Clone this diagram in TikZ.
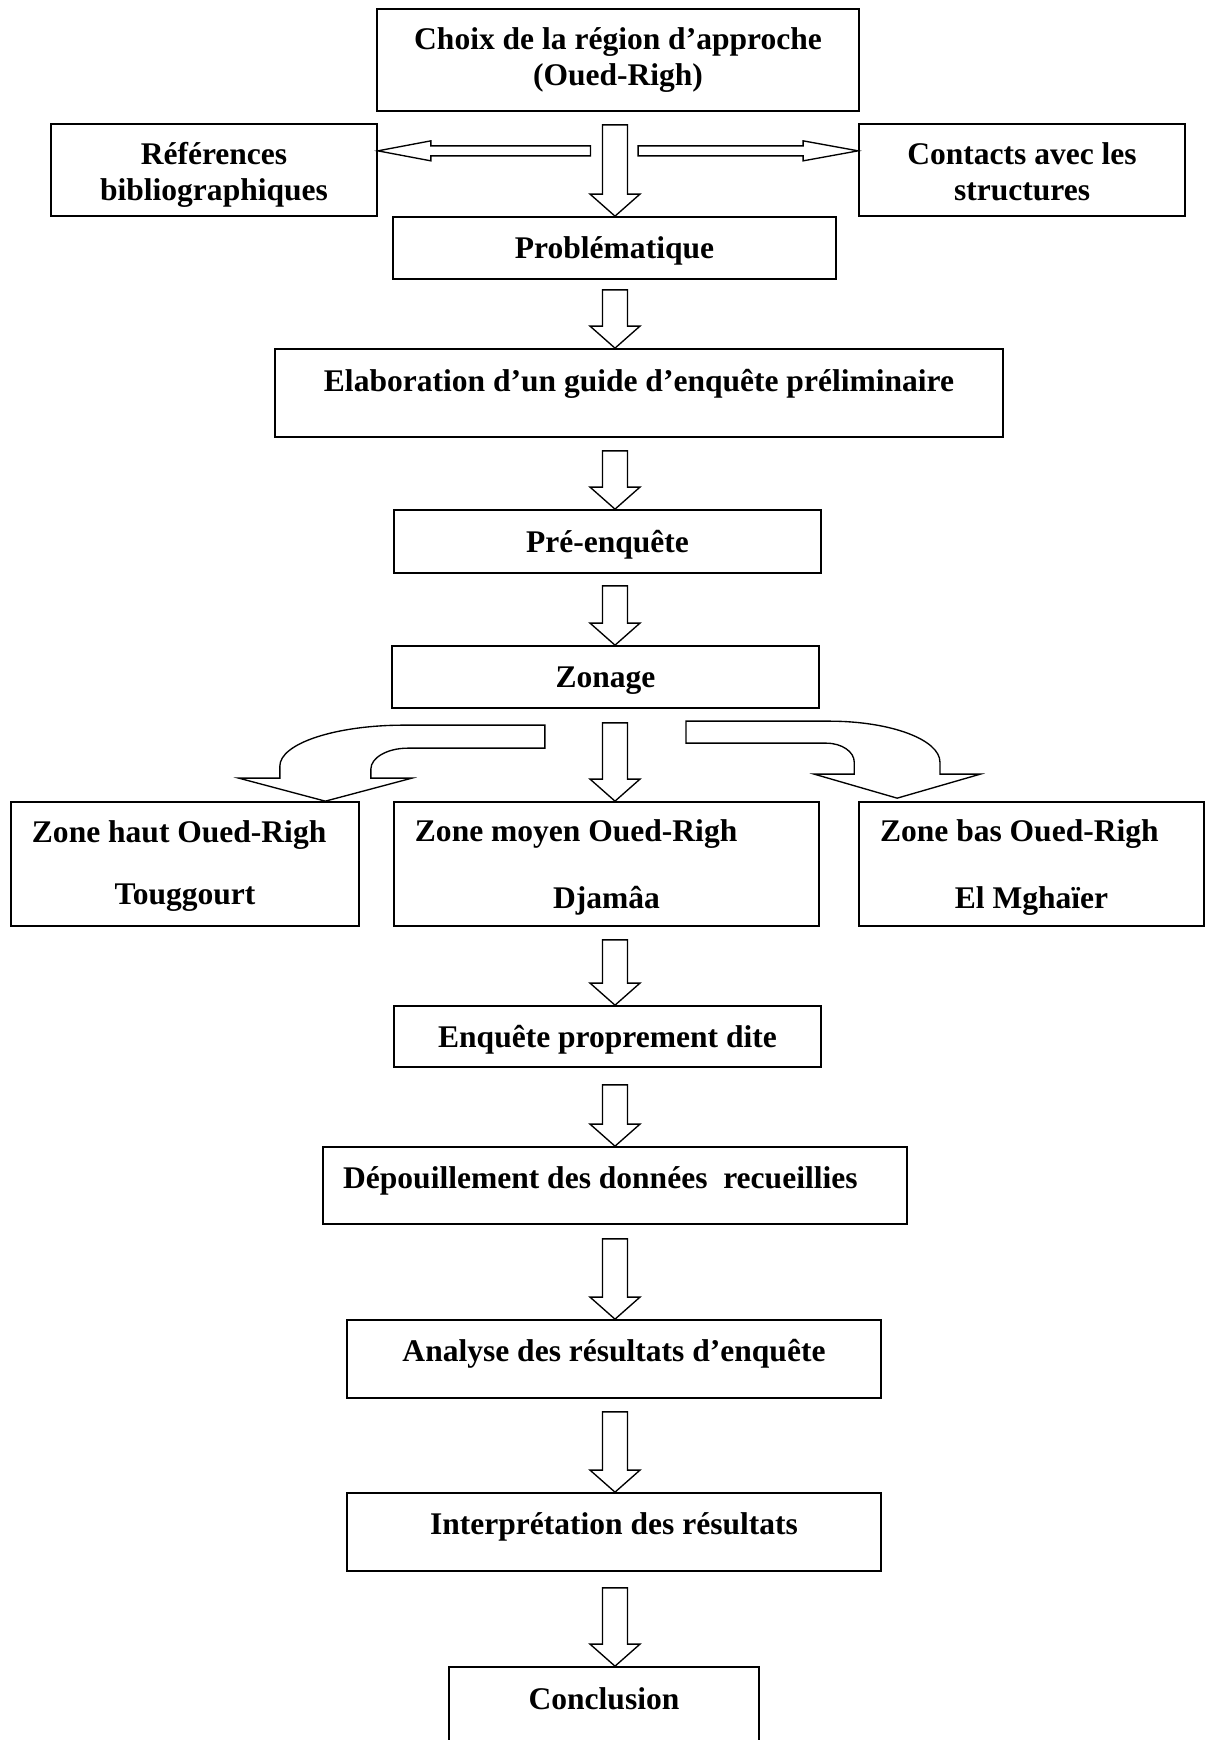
\documentclass[tikz,border=0pt]{standalone}
\usepackage{fontspec}
\setmainfont{Liberation Serif}
\usepackage{tikz}
\usetikzlibrary{calc}

\begin{document}
\begin{tikzpicture}[
  x=0.444pt, y=-0.444pt,
  stage/.style 2 args={draw, line width=0.75pt, minimum width=#1*0.444pt, minimum height=#2*0.444pt, inner sep=0pt, align=center, font=\bfseries\fontsize{14}{16.1}\selectfont},
  oneline/.style={text height=10pt, text depth=#1},
  oneline/.default=1pt,
  zone/.style={text width=#1, execute at begin node={\spaceskip=\fontdimen2\font\xspaceskip=\fontdimen2\font\relax}},
  hollow/.style={draw, line width=0.6pt, fill=white},
  drop/.style={hollow, to path={let \p1=(\tikztostart), \p2=(\tikztotarget) in
    (\x1-5.55pt,\y1) -- (\x1+5.55pt,\y1) -- (\x1+5.55pt,\y2+9.8pt) -- (\x1+11.1pt,\y2+9.8pt)
    -- (\x2,\y2) -- (\x1-11.1pt,\y2+9.8pt) -- (\x1-5.55pt,\y2+9.8pt) -- cycle}}
]
\useasboundingbox (0,0) rectangle (1205,1740);
\clip (0,0) rectangle (1205,1740);
\fill[white] (0,0) rectangle (1205,1740);
\coordinate (axis) at (615,0);

\node[stage={482}{102}] (choice) at (618,60) {Choix de la région d’approche\\(Oued-Righ)};
\node[stage={326}{92}] (refs) at (214,170) {\rule{0pt}{14.8pt}Références\\bibliographiques\rule[-4pt]{0pt}{0pt}};
\node[stage={326}{92}] (contacts) at (1022,170) {\rule{0pt}{14.8pt}Contacts avec les\\structures\rule[-4pt]{0pt}{0pt}};
\node[stage={443}{62}, oneline] (prob) at (614.5,248) {Problématique};
\node[stage={728}{88}, oneline=11.6pt] (guide) at (639,393) {Elaboration d’un guide d’enquête préliminaire};
\node[stage={427}{63}, oneline=0pt] (pre) at (607.5,541.5) {Pré-enquête};
\node[stage={427}{62}, oneline] (zoning) at (605.5,677) {Zonage};
\node[stage={348}{124}, zone=135.9pt] (zhigh) at (185,864) {\rule{0pt}{12.45pt}\makebox[\hsize][l]{Zone haut Oued-Righ}\\[11.25pt]Touggourt\rule[-4pt]{0pt}{0pt}};
\node[stage={425}{124}, zone=170.1pt] (zmid) at (606.5,864) {\rule{0pt}{13.8pt}\makebox[\hsize][l]{Zone moyen Oued-Righ}\\[13.5pt]Djamâa\rule[-4pt]{0pt}{0pt}};
\node[stage={345}{124}, zone=134.5pt] (zlow) at (1031.5,864) {\rule{0pt}{13.8pt}\makebox[\hsize][l]{Zone bas Oued-Righ}\\[13.5pt]El Mghaïer\rule[-4pt]{0pt}{0pt}};
\node[stage={427}{61}, oneline=0pt] (survey) at (607.5,1036.5) {Enquête proprement dite};
\node[stage={584}{77}, oneline=7.4pt] (sorting) at (615,1185.5) {Dépouillement des données\ \ recueillies\hspace*{13pt}};
\node[stage={534}{78}, oneline=7.5pt] (analysis) at (614,1359) {Analyse des résultats d’enquête};
\node[stage={534}{78}, oneline=8.2pt] (interp) at (614,1532) {Interprétation des résultats};
\node[stage={310}{80}, oneline=8pt] (concl) at (604,1707) {Conclusion};

\draw[hollow] ($(refs.north east)+(0,27.7)$) -- ++(53,-10) -- ++(0,5) -- ++(159.7,0) -- ++(0,10) -- ++(-159.7,0) -- ++(0,5) -- cycle;
\draw[hollow] ($(contacts.north west)+(0,27.7)$) -- ++(-55,-10) -- ++(0,5) -- ++(-165,0) -- ++(0,10) -- ++(165,0) -- ++(0,5) -- cycle;

\draw[drop] ($(axis |- choice.south)+(0,13)$) to (axis |- prob.north);
\draw[drop] ($(axis |- prob.south)+(0,10)$) to (axis |- guide.north);
\draw[drop] ($(axis |- guide.south)+(0,13)$) to (axis |- pre.north);
\draw[drop] ($(axis |- pre.south)+(0,12)$) to (axis |- zoning.north);
\draw[drop] ($(axis |- zoning.south)+(0,14)$) to (axis |- zmid.north);
\draw[drop] ($(axis |- zmid.south)+(0,13)$) to (axis |- survey.north);
\draw[drop] ($(axis |- survey.south)+(0,17)$) to (axis |- sorting.north);
\draw[drop] ($(axis |- sorting.south)+(0,14)$) to (axis |- analysis.north);
\draw[drop] ($(axis |- analysis.south)+(0,13)$) to (axis |- interp.north);
\draw[drop] ($(axis |- interp.south)+(0,16)$) to (axis |- concl.north);

\draw[hollow] ($(zhigh.north east)+(-34.5,0)$) -- ++(86.5,-23) -- ++(-41,0) -- ++(0,-9)
  .. controls +(0,-11.6) and +(-20.4,0) .. ++(37,-21) -- ++(137,0) -- ++(0,-23) -- ++(-141,0)
  .. controls +(-68.5,0) and +(0,-22.6) .. ++(-124,41) -- ++(0,12) -- ++(-41,0) -- cycle;
\draw[hollow] ($(zlow.north west)+(39,-3)$) -- ++(-82.9,-24) -- ++(40,0) -- ++(0,-12)
  .. controls +(0,-10.5) and +(15.5,0) .. ++(-28,-19) -- ++(-140.3,0) -- ++(0,-22) -- ++(143.3,0)
  .. controls +(61.1,0) and +(0,-22.6) .. ++(110.7,41) -- ++(0,12) -- ++(40.3,0) -- cycle;
\end{tikzpicture}
\end{document}
